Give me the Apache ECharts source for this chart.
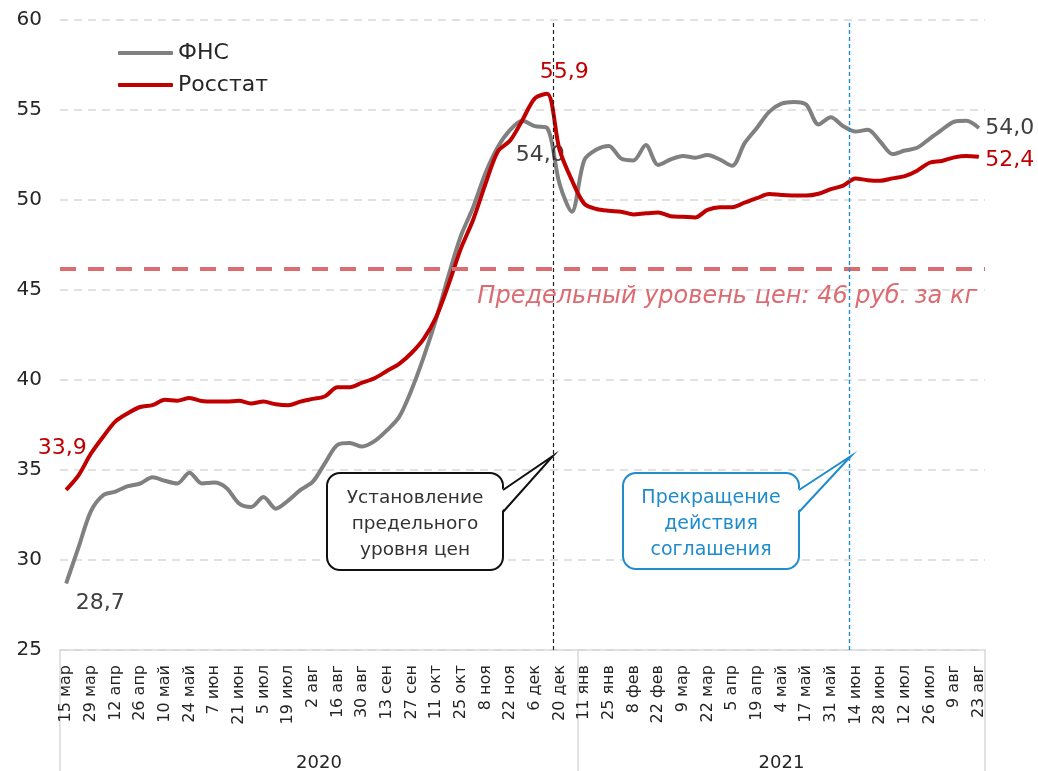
<!DOCTYPE html>
<html>
<head>
<meta charset="utf-8">
<script src="https://cdn.jsdelivr.net/npm/echarts@6/dist/echarts.min.js"></script>
<style>
  html, body { margin: 0; padding: 0; background: #fff; }
  #chart { width: 1038px; height: 771px; }
</style>
</head>
<body>
<div id="chart"></div>
<script>
// ============ данные ============
const weeks2020 = [
  '15 мар', '22 мар', '29 мар', '5 апр', '12 апр', '19 апр', '26 апр', '3 май', '10 май', '17 май',
  '24 май', '31 май', '7 июн', '14 июн', '21 июн', '28 июн', '5 июл', '12 июл', '19 июл', '26 июл',
  '2 авг', '9 авг', '16 авг', '23 авг', '30 авг', '6 сен', '13 сен', '20 сен', '27 сен', '4 окт',
  '11 окт', '18 окт', '25 окт', '1 ноя', '8 ноя', '15 ноя', '22 ноя', '29 ноя', '6 дек', '13 дек',
  '20 дек', '27 дек'
]
const weeks2021 = [
  '11 янв', '18 янв', '25 янв', '1 фев', '8 фев', '15 фев', '22 фев', '1 мар', '9 мар', '15 мар',
  '22 мар', '29 мар', '5 апр', '12 апр', '19 апр', '26 апр', '4 май', '11 май', '17 май', '24 май',
  '31 май', '7 июн', '14 июн', '21 июн', '28 июн', '5 июл', '12 июл', '19 июл', '26 июл', '2 авг',
  '9 авг', '16 авг', '23 авг'
]
const years = ['2020', '2021']

const fnsPrices = [
  28.7, 30.7, 32.7, 33.6, 33.8, 34.1, 34.25, 34.6, 34.4, 34.25,
  34.85, 34.25, 34.3, 34.0, 33.15, 32.95, 33.5, 32.85, 33.3, 33.9,
  34.35, 35.4, 36.4, 36.5, 36.3, 36.6, 37.2, 37.95, 39.45, 41.3,
  43.4, 45.8, 48.0, 49.6, 51.5, 52.95, 53.9, 54.4, 54.1, 54.0,
  50.9, 49.35, 52.2, 52.8, 53.0, 52.3, 52.2, 53.05, 51.95, 52.25,
  52.45, 52.35, 52.5, 52.25, 51.9, 53.15, 54.0, 54.9, 55.35, 55.45,
  55.3, 54.2, 54.6, 54.1, 53.8, 53.9, 53.25, 52.55, 52.75, 52.9,
  53.4, 53.9, 54.35, 54.4, 54.0
]
const rosstatPrices = [
  33.9, 34.7, 35.9, 36.85, 37.7, 38.15, 38.5, 38.6, 38.9, 38.85,
  39.0, 38.83, 38.8, 38.8, 38.85, 38.7, 38.8, 38.65, 38.6, 38.8,
  38.95, 39.1, 39.6, 39.6, 39.85, 40.1, 40.5, 40.9, 41.5, 42.3,
  43.5, 45.3, 47.3, 48.9, 50.9, 52.7, 53.3, 54.45, 55.65, 55.9,
  52.8, 51.1, 49.8, 49.5, 49.4, 49.35, 49.2, 49.26, 49.3, 49.1,
  49.07, 49.03, 49.45, 49.6, 49.6, 49.85, 50.1, 50.33, 50.28, 50.25,
  50.25, 50.35, 50.6, 50.8, 51.2, 51.1, 51.07, 51.2, 51.33, 51.63,
  52.07, 52.17, 52.37, 52.45, 52.4
]
const priceCap = 46.2
const capText = 'Предельный уровень цен: 46 руб. за кг'

// ============ оформление ============
const FONT = 'DejaVu Sans'
const COLORS = {
  fns: '#808080',
  rosstat: '#c00000',
  cap: '#dc6b72',
  blue: '#1f8ccc',
  text: '#262626',
  grid: '#d9d9d9'
}

const categories = weeks2020.concat(weeks2021)
const n2020 = weeks2020.length

function fmt(v) {
  return v.toFixed(1).replace('.', ',')
}

// точки с подписями
function withLabels(values, color, marks) {
  return values.map((v, i) => {
    const m = marks[i]
    if (!m) return v
    return {
      value: v,
      label: Object.assign({ show: true, color: color, fontSize: 22, fontFamily: FONT, formatter: p => fmt(p.value) }, m)
    }
  })
}

const lastIdx = categories.length - 1
const fnsData = withLabels(fnsPrices, '#404040', {
  0: { position: 'bottom', distance: 8, offset: [34, 0] },
  39: { position: 'bottom', distance: 16, offset: [-7, 0] },
  [lastIdx]: { position: 'right', distance: 6 }
})
const rosstatData = withLabels(rosstatPrices, COLORS.rosstat, {
  0: { position: 'top', distance: 30, offset: [-4, 0] },
  39: { position: 'top', distance: 10, offset: [17, 0] },
  [lastIdx]: { position: 'right', distance: 6, offset: [0, 3] }
})

const chart = echarts.init(document.getElementById('chart'))

const option = {
  animation: false,
  textStyle: { fontFamily: FONT },
  grid: { left: 60, right: 53, top: 20, bottom: 121 },
  legend: {
    orient: 'vertical',
    left: 118,
    top: 42,
    padding: 0,
    itemGap: 10,
    itemWidth: 55,
    itemHeight: 4,
    icon: 'roundRect',
    data: ['ФНС', 'Росстат'],
    textStyle: { fontSize: 22, color: COLORS.text, fontFamily: FONT }
  },
  xAxis: [
    {
      type: 'category',
      data: categories,
      boundaryGap: true,
      axisLine: { lineStyle: { color: COLORS.grid, width: 1.5 } },
      axisTick: { show: false },
      axisLabel: {
        interval: 1,
        rotate: 90,
        margin: 15,
        fontSize: 16,
        color: COLORS.text
      }
    },
    {
      // вспомогательная ось для вертикальных линий и групп по годам
      type: 'value',
      min: 0,
      max: categories.length,
      show: false
    }
  ],
  yAxis: {
    type: 'value',
    min: 25,
    max: 60,
    interval: 5,
    axisLine: { show: false },
    axisTick: { show: false },
    axisLabel: { fontSize: 20, color: COLORS.text, margin: 18 },
    splitLine: { lineStyle: { color: COLORS.grid, width: 1.5, type: [8, 6] } }
  },
  series: [
    {
      name: 'ФНС',
      type: 'line',
      data: fnsData,
      smooth: 0.3,
      symbol: 'circle',
      symbolSize: 1,
      showSymbol: true,
      showAllSymbol: true,
      lineStyle: { color: COLORS.fns, width: 4 },
      itemStyle: { color: COLORS.fns },
      z: 3
    },
    {
      name: 'Росстат',
      type: 'line',
      data: rosstatData,
      smooth: 0.3,
      symbol: 'circle',
      symbolSize: 1,
      showSymbol: true,
      showAllSymbol: true,
      lineStyle: { color: COLORS.rosstat, width: 4 },
      itemStyle: { color: COLORS.rosstat },
      z: 4
    },
    {
      name: 'marks',
      type: 'line',
      xAxisIndex: 1,
      data: [],
      z: 2,
      markLine: {
        silent: true,
        symbol: 'none',
        data: [
          {
            yAxis: priceCap,
            lineStyle: { color: COLORS.cap, width: 4, type: [16, 12] },
            label: {
              show: true,
              position: 'insideEndBottom',
              distance: [8, 16],
              formatter: capText,
              fontSize: 24,
              fontFamily: FONT,
              fontStyle: 'italic',
              color: COLORS.cap
            }
          },
          {
            xAxis: 40,
            lineStyle: { color: '#222', width: 1.2, type: [4, 3] },
            label: { show: false }
          },
          {
            xAxis: 64,
            lineStyle: { color: COLORS.blue, width: 1.4, type: [4, 3] },
            label: { show: false }
          }
        ]
      }
    }
  ]
}

chart.setOption(option)

// ============ группы по годам и выноски ============
const X = v => chart.convertToPixel({ xAxisIndex: 1 }, v)
const yBase = chart.convertToPixel({ yAxisIndex: 0 }, 25)
const H = chart.getHeight()
const bounds = [0, n2020, categories.length]

const graphics = []
bounds.forEach(b => {
  graphics.push({
    type: 'line',
    shape: { x1: X(b), y1: yBase, x2: X(b), y2: H },
    style: { stroke: COLORS.grid, lineWidth: 1.5 }
  })
})
years.forEach((yr, i) => {
  graphics.push({
    type: 'text',
    x: X((bounds[i] + bounds[i + 1]) / 2),
    y: 763,
    style: { text: yr, fontSize: 18, fontFamily: FONT, fill: COLORS.text, textAlign: 'center', textVerticalAlign: 'middle' }
  })
})

function callout(box, tip, color, textColor, fontSize, text) {
  const right = box.x + box.w
  graphics.push({
    type: 'rect',
    shape: { x: box.x, y: box.y, width: box.w, height: box.h, r: 13 },
    style: { fill: '#fff', stroke: color, lineWidth: 2 },
    z: 10
  })
  graphics.push({
    type: 'polygon',
    shape: { points: [[right - 2, box.y + 17], [tip[0], tip[1]], [right - 2, box.y + 39]] },
    style: { fill: '#fff' },
    z: 11
  })
  graphics.push({
    type: 'polyline',
    shape: { points: [[right, box.y + 17], [tip[0], tip[1]], [right, box.y + 39]] },
    style: { stroke: color, lineWidth: 2, fill: null },
    z: 11
  })
  graphics.push({
    type: 'text',
    x: box.x + box.w / 2,
    y: box.y + box.h / 2 + 3,
    style: {
      text: text,
      fontSize: fontSize,
      lineHeight: 26,
      fontFamily: FONT,
      fill: textColor,
      textAlign: 'center',
      textVerticalAlign: 'middle'
    },
    z: 12
  })
}

callout({ x: 327, y: 473, w: 176, h: 97 }, [553, 456], '#111', '#333', 18.5, 'Установление\nпредельного\nуровня цен')
callout({ x: 623, y: 473, w: 176, h: 96 }, [851, 456], COLORS.blue, COLORS.blue, 19, 'Прекращение\nдействия\nсоглашения')

chart.setOption({ graphic: graphics })
</script>
</body>
</html>
